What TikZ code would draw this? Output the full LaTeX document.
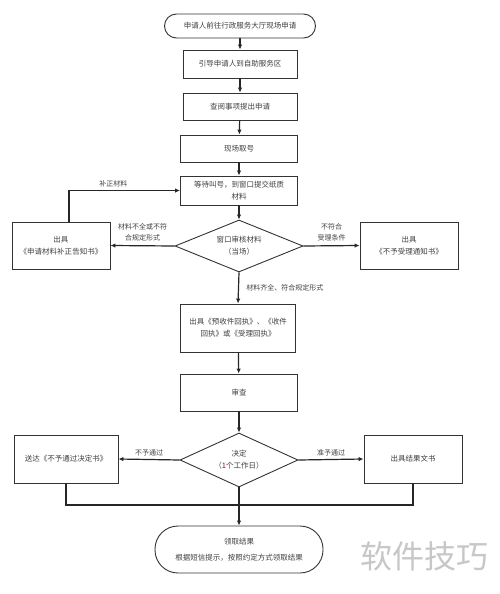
\documentclass[tikz,border=0pt]{standalone}
\usepackage{fontspec}
\setmainfont{Noto Sans CJK SC}
\usepackage{xcolor}
\usepackage{tikz}
\usetikzlibrary{
    arrows.meta,
    positioning,
    calc,
    shapes.geometric
}
\tikzset{
    procbox/.style={
        draw=black!80,
        line width=0.9pt,
        fill=white,
        align=center,
        inner sep=2pt
    }
}
\tikzset{
    terminal/.style={
        procbox,
        rounded corners=12pt
    }
}
\tikzset{
    decision/.style={
        procbox,
        shape=diamond,
        aspect=2.4,
        inner sep=0pt
    }
}
\tikzset{
    flowline/.style={
        draw=black!85,
        line width=1.2pt
    }
}
\tikzset{
    flowarrow/.style={
        flowline,
        -{Latex[length=5pt,width=4.5pt]}
    }
}
\tikzset{
    edgelabel/.style={
        font=\fontsize{7}{11}\selectfont,
        text=black!75,
        align=center
    }
}

\begin{document}
\begin{tikzpicture}[
    x=1pt, y=-1pt,
    font=\fontsize{7.5}{12}\selectfont,
    text=black!75
]

\useasboundingbox[fill=white] (0,0) rectangle (500,594);

% =========================================================
% Main column
% =========================================================

\node[terminal, minimum width=151pt, minimum height=24pt] (start) at (240,26)
    {申请人前往行政服务大厅现场申请};

\node[procbox, minimum width=114pt, minimum height=28pt] (guide) at (240,64)
    {引导申请人到自助服务区};

\node[procbox, minimum width=114pt, minimum height=27pt] (query) at (240,106.5)
    {查阅事项提出申请};

\node[procbox, minimum width=117pt, minimum height=27pt] (ticket) at (239,148.5)
    {现场取号};

\node[procbox, minimum width=117pt, minimum height=29pt] (wait) at (239,190.5)
    {等待叫号，到窗口提交纸质\\材料};

\node[decision, minimum width=128pt, minimum height=52pt] (check) at (239,246)
    {窗口审核材料\\（当场）};

\node[procbox, minimum width=115pt, minimum height=48pt] (receipt) at (238,328)
    {出具《预收件回执》、《收件\\回执》或《受理回执》};

\node[procbox, minimum width=117pt, minimum height=37pt] (review) at (239,392.5)
    {审查};

\node[decision, minimum width=118pt, minimum height=54pt] (decide) at (239,460)
    {决定\\（\textcolor{red!75!black}{1}个工作日）};

\node[terminal, rounded corners=23pt, minimum width=168pt, minimum height=47pt] (fetch) at (239,549.5)
    {领取结果\\[4pt]根据短信提示，按照约定方式领取结果};

% =========================================================
% Side boxes
% =========================================================

\node[procbox, minimum width=98pt, minimum height=47pt] (supply) at (61,245.5)
    {出具\\《申请材料补正告知书》};

\node[procbox, minimum width=98pt, minimum height=47pt] (reject) at (409,245.5)
    {出具\\《不予受理通知书》};

\node[procbox, minimum width=104pt, minimum height=48pt] (deny) at (66,459)
    {送达《不予通过决定书》};

\node[procbox, minimum width=98pt, minimum height=48pt] (result) at (413,459)
    {出具结果文书};

% =========================================================
% Connectors
% =========================================================

\draw[flowarrow] (start) -- (guide);
\draw[flowarrow] (guide) -- (query);
\draw[flowarrow] (query) -- (ticket);
\draw[flowarrow] (ticket) -- (wait);
\draw[flowarrow] (wait) -- (check);

\draw[flowarrow] (check.west) -- (supply.east)
    node[edgelabel, midway, above=1pt] {材料不全或不符\\合规定形式};
\draw[flowarrow] (check.east) -- (reject.west)
    node[edgelabel, midway, above=1pt] {不符合\\受理条件};
\draw[flowarrow] ([xshift=8pt]supply.north) |- (wait.west)
    node[edgelabel, pos=0.7, above=0pt] {补正材料};

\draw[flowarrow] (check.south) -- (receipt.north)
    node[edgelabel, midway, right=4pt] {材料齐全、符合规定形式};
\draw[flowarrow] (receipt) -- (review);
\draw[flowarrow] (review) -- (decide);

\draw[flowarrow] (decide.west) -- (deny.east)
    node[edgelabel, midway, above=0pt] {不予通过};
\draw[flowarrow] (decide.east) -- (result.west)
    node[edgelabel, midway, above=0pt] {准予通过};

\coordinate (merge) at (239,505);
\draw[flowline] (deny.south) |- (merge);
\draw[flowline] (result.south) |- (merge);
\draw[flowline] (decide.south) -- (merge);
\draw[flowarrow] (merge) -- (fetch.north);

% =========================================================
% Watermark
% =========================================================

\node[font=\fontsize{32}{36}\selectfont, text=black!22] (mark) at (424,556) {软件技巧};

\end{tikzpicture}
\end{document}
